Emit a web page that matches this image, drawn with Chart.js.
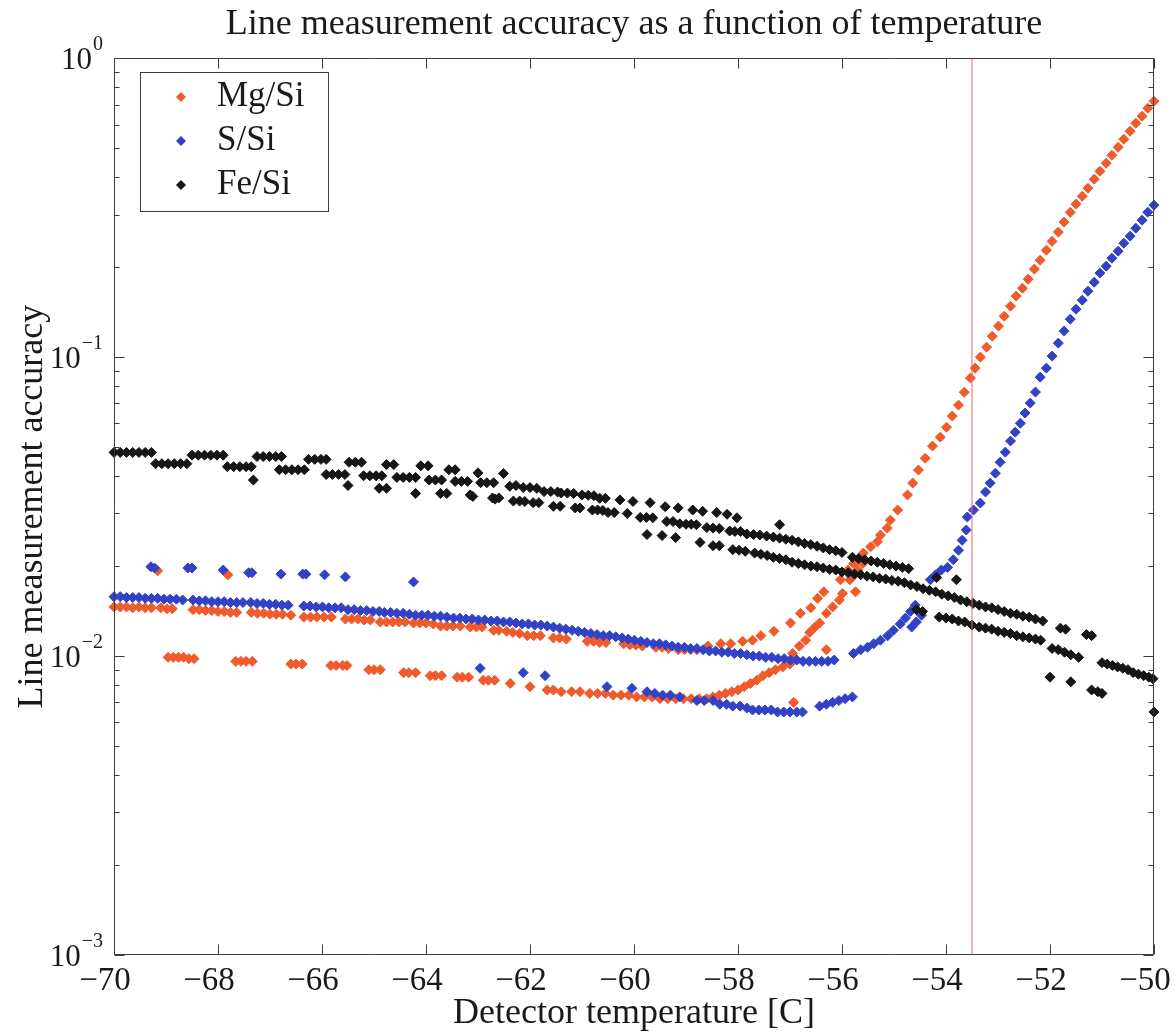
<!DOCTYPE html>
<html>
<head>
<meta charset="utf-8">
<title>Line measurement accuracy as a function of temperature</title>
<script src="https://cdn.jsdelivr.net/npm/chart.js@4.4.1/dist/chart.umd.min.js"></script>
<style>
    html, body { margin: 0; padding: 0; background: #fff; }
    #wrap { width: 1176px; height: 1036px; }
</style>
</head>
<body>
<div id="wrap"><canvas id="accuracyChart" width="1176" height="1036"></canvas></div>
<script>
// --- Fe/Si (black) ---
const feStepTemp = [-70.0, -69.88, -69.76, -69.64, -69.52, -69.4, -69.28, -69.2, -69.08, -68.96, -68.84, -68.72, -68.6,
    -68.5, -68.38, -68.26, -68.14, -68.02, -67.9, -67.82, -67.7, -67.58, -67.46, -67.36, -67.32,
    -67.25, -67.13, -67.01, -66.89, -66.78, -66.82, -66.7, -66.58, -66.46, -66.34, -66.26, -66.14, -66.02, -65.92,
    -65.92, -65.8, -65.68, -65.56, -65.5, -65.48, -65.36, -65.24, -65.2, -65.08, -64.96, -64.85, -64.9, -64.76,
    -64.76, -64.62, -64.56, -64.44, -64.32, -64.2, -64.2, -64.1, -63.96, -63.94, -63.82, -63.7, -63.72, -63.6,
    -63.56, -63.44, -63.44, -63.32, -63.2, -63.15, -63.0, -62.95, -62.83, -62.7, -62.67, -62.51];
const feStepAcc = [0.048, 0.048, 0.048, 0.048, 0.048, 0.048, 0.048, 0.044, 0.044, 0.044, 0.044, 0.044, 0.044,
    0.047, 0.047, 0.047, 0.047, 0.047, 0.047, 0.043, 0.043, 0.043, 0.043, 0.043, 0.0388,
    0.0465, 0.0465, 0.0465, 0.0465, 0.0465, 0.042, 0.042, 0.042, 0.042, 0.042, 0.0455, 0.0455, 0.0455, 0.0455,
    0.0405, 0.0405, 0.0405, 0.0405, 0.0372, 0.0445, 0.0445, 0.0445, 0.0401, 0.0401, 0.0401, 0.0401, 0.0364, 0.0364,
    0.0437, 0.0437, 0.0396, 0.0396, 0.0396, 0.0396, 0.035, 0.0433, 0.0433, 0.0388, 0.0388, 0.0388, 0.035, 0.035,
    0.042, 0.042, 0.0384, 0.0384, 0.0384, 0.0346, 0.041, 0.038, 0.038, 0.038, 0.0335, 0.0408];

const feTopTemp = [-62.39, -62.27, -62.13, -62.0, -61.87, -61.73, -61.6, -61.47, -61.4, -61.28, -61.16, -61.0, -60.88,
    -60.77, -60.66, -60.55, -60.27, -60.02, -59.69, -59.4, -59.15, -58.87, -58.68, -58.41, -58.21, -58.02];
const feTopAcc = [0.0370, 0.0372, 0.0366, 0.0366, 0.0364, 0.0355, 0.0355, 0.0354, 0.0351, 0.0351, 0.0350, 0.0346, 0.0345,
    0.0344, 0.0337, 0.0337, 0.0333, 0.0329, 0.0326, 0.0316, 0.0313, 0.0308, 0.0305, 0.0302, 0.0298, 0.0290];

const feMidTemp = [-63.1, -62.72, -62.6, -62.32, -62.2, -62.1, -61.94, -61.83, -61.55, -61.42, -61.13, -61.04, -60.8,
    -60.7, -60.6, -60.5, -60.38, -60.13, -59.88, -59.76, -59.64, -59.37, -59.25, -59.12, -59.0, -58.9, -58.8, -58.6,
    -58.48, -58.36, -58.16, -58.06, -57.95, -57.83, -57.7, -57.58, -57.45, -57.32, -57.2, -57.08, -56.96, -56.84,
    -56.72, -56.6, -56.48, -56.36, -56.24, -56.12, -56.0, -55.8, -55.68, -55.56, -55.44, -55.32, -55.2, -55.08,
    -54.96, -54.84, -54.72];
const feMidAcc = [0.0342, 0.0338, 0.0338, 0.0330, 0.0330, 0.0329, 0.0326, 0.0326, 0.0317, 0.0317, 0.0313, 0.0313, 0.0308,
    0.0308, 0.0307, 0.0302, 0.0302, 0.0300, 0.0291, 0.0291, 0.0290, 0.0282, 0.0282, 0.0277, 0.0276, 0.0276, 0.0275, 0.0269,
    0.0268, 0.0267, 0.0262, 0.0261, 0.0261, 0.0256, 0.0255, 0.0254, 0.0252, 0.0250, 0.0248, 0.0246, 0.0244, 0.0241,
    0.0238, 0.0236, 0.0233, 0.0230, 0.0227, 0.0225, 0.0222, 0.0214, 0.0212, 0.0210, 0.0208, 0.0206, 0.0204, 0.0202,
    0.0200, 0.0198, 0.0196];

const feLowTemp = [-59.75, -59.46, -59.2, -58.73, -58.48, -58.36, -58.1, -57.98, -57.86, -57.68, -57.56, -57.44, -57.32,
    -57.2, -57.08, -56.96, -56.84, -56.72, -56.6, -56.48, -56.36, -56.24, -56.12, -56.0, -55.88, -55.76, -55.64, -55.52,
    -55.4, -55.28, -55.16, -55.04, -54.92, -54.8, -54.68, -54.56, -54.44, -54.32, -54.2, -54.08, -53.96, -53.84, -53.72,
    -53.6, -53.48, -53.36, -53.24, -53.12, -53.0, -52.88, -52.76, -52.64, -52.52, -52.4, -52.28, -52.14, -51.8, -51.7,
    -51.3, -51.2, -51.0, -50.9, -50.8, -50.7, -50.6, -50.5, -50.4, -50.3, -50.2, -50.1, -50.02];
const feLowAcc = [0.0255, 0.0253, 0.0249, 0.0240, 0.0234, 0.0234, 0.0227, 0.0226, 0.0224, 0.0221, 0.0219, 0.0217, 0.0214,
    0.0212, 0.0210, 0.0206, 0.0204, 0.0202, 0.0200, 0.0199, 0.0197, 0.0195, 0.0194, 0.0191, 0.0190, 0.0188, 0.0187, 0.0185,
    0.0184, 0.0182, 0.0181, 0.0179, 0.0178, 0.0176, 0.0173, 0.0171, 0.0168, 0.0166, 0.0164, 0.0161, 0.0159, 0.0157, 0.0154,
    0.0152, 0.0150, 0.0148, 0.0146, 0.0145, 0.0143, 0.0141, 0.0139, 0.0138, 0.0136, 0.0135, 0.0133, 0.0131, 0.0124, 0.0123,
    0.0118, 0.0117, 0.0095, 0.0094, 0.0093, 0.0092, 0.0091, 0.0090, 0.0088, 0.0087, 0.0086, 0.0085, 0.0084];

const feBottomTemp = [-54.57, -54.45, -54.13, -54.0, -53.88, -53.76, -53.64, -53.5, -53.36, -53.24, -53.12, -53.0, -52.88,
    -52.76, -52.64, -52.52, -52.4, -52.28, -52.18, -51.96, -51.84, -51.72, -51.6, -51.45, -51.2, -51.08, -51.0];
const feBottomAcc = [0.0143, 0.0141, 0.0135, 0.0134, 0.0133, 0.0131, 0.0130, 0.0127, 0.0125, 0.0124, 0.0123, 0.0121, 0.0120,
    0.0119, 0.0117, 0.0116, 0.0115, 0.0114, 0.0113, 0.0106, 0.0105, 0.0103, 0.0101, 0.0099, 0.0077, 0.0076, 0.0075];

const feStrayTemp = [-57.2, -54.18, -53.8, -52.0, -51.6, -50.0];
const feStrayAcc = [0.0275, 0.0183, 0.0180, 0.0085, 0.0082, 0.0065];

// --- Mg/Si (orange) ---
const mgUpperTemp = [-70.0, -69.88, -69.76, -69.64, -69.52, -69.4, -69.28, -69.1, -68.98, -68.88, -68.48, -68.36, -68.24,
    -68.12, -68.0, -67.88, -67.76, -67.64, -67.36, -67.24, -67.12, -67.0, -66.88, -66.76, -66.6, -66.35, -66.22, -66.1,
    -65.96, -65.82, -65.55, -65.43, -65.31, -65.19, -65.07, -64.88, -64.76, -64.64, -64.52, -64.4, -64.24, -64.12, -64.0,
    -63.86, -63.72, -63.6, -63.48, -63.34, -63.15, -63.03, -62.92, -62.7, -62.6, -62.45, -62.33, -62.2, -62.05, -61.93,
    -61.8, -61.55, -61.43, -61.3, -60.9, -60.78, -60.66, -60.54, -60.2, -60.08, -59.96, -59.84, -59.58, -59.46, -59.34,
    -59.15, -59.03, -58.91, -58.79];
const mgUpperAcc = [0.0146, 0.0146, 0.0146, 0.0145, 0.0146, 0.0145, 0.0145, 0.0145, 0.0144, 0.0144, 0.0143, 0.0143, 0.0142,
    0.0142, 0.0141, 0.0141, 0.0140, 0.0140, 0.0140, 0.0139, 0.0139, 0.0138, 0.0138, 0.0138, 0.0137, 0.0135, 0.0135, 0.0135,
    0.0135, 0.0135, 0.0133, 0.0133, 0.0133, 0.0132, 0.0132, 0.0130, 0.0130, 0.0130, 0.0130, 0.0130, 0.0129, 0.0129, 0.0129,
    0.0128, 0.0126, 0.0126, 0.0126, 0.0126, 0.0125, 0.0125, 0.0125, 0.0122, 0.0122, 0.0121, 0.0120, 0.0119, 0.0117, 0.0117,
    0.0117, 0.0115, 0.0115, 0.0114, 0.0112, 0.0112, 0.0111, 0.0111, 0.0110, 0.0109, 0.0109, 0.0108, 0.0107, 0.0107, 0.0106,
    0.0105, 0.0105, 0.0105, 0.0105];

const mgRiseTemp = [-58.58, -58.33, -58.14, -57.91, -57.72, -57.56, -57.31, -56.99, -56.8, -56.6, -56.47, -56.35, -56.03,
    -55.89, -55.78, -55.59, -55.45, -55.32, -55.26, -55.13, -55.07, -54.93, -54.74, -54.64, -54.53, -54.4, -54.26, -54.11,
    -53.99, -53.88, -53.76, -53.65, -53.53, -53.44, -53.34, -53.22, -53.11, -52.99, -52.88, -52.76, -52.65, -52.53, -52.42,
    -52.3, -52.19, -52.07, -51.96, -51.84, -51.73, -51.61, -51.5, -51.38, -51.27, -51.15, -51.04, -50.92, -50.81, -50.69,
    -50.58, -50.46, -50.35, -50.23, -50.12, -50.0];
const mgRiseAcc = [0.0108, 0.0110, 0.0110, 0.0112, 0.0113, 0.0117, 0.0121, 0.0129, 0.0139, 0.0145, 0.0156, 0.0164, 0.0180,
    0.0194, 0.0204, 0.0221, 0.0232, 0.0241, 0.0254, 0.0268, 0.0285, 0.0308, 0.0346, 0.0379, 0.0419, 0.0459, 0.0504, 0.0540,
    0.0583, 0.0635, 0.0691, 0.0763, 0.0851, 0.0919, 0.1000, 0.108, 0.1175, 0.127, 0.1371, 0.1481, 0.160, 0.170, 0.1823,
    0.197, 0.211, 0.228, 0.244, 0.262, 0.283, 0.305, 0.325, 0.3455, 0.3674, 0.3938, 0.4188, 0.4454, 0.4737, 0.5038,
    0.5358, 0.5699, 0.6061, 0.6398, 0.6805, 0.718];

const mgLowerTemp = [-68.96, -68.86, -68.76, -68.66, -68.56, -68.46, -67.66, -67.56, -67.46, -67.34, -66.6, -66.5, -66.38,
    -65.83, -65.73, -65.6, -65.52, -65.1, -65.0, -64.88, -64.43, -64.33, -64.2, -63.92, -63.82, -63.7, -63.4, -63.3, -63.18,
    -62.9, -62.8, -62.68, -62.38, -62.0, -61.67, -61.55, -61.4, -61.2, -61.04, -60.85, -60.7, -60.55, -60.4, -60.25, -60.1,
    -59.95, -59.8, -59.65, -59.5, -59.35, -59.2, -59.05, -58.9, -58.75, -58.6, -58.48, -58.36, -58.24, -58.12, -58.0,
    -57.88, -57.76, -57.64, -57.52, -57.4, -57.28, -57.14, -57.0, -56.95, -56.82, -56.7, -56.62, -56.52, -56.43, -56.3,
    -56.18, -56.05, -55.99, -55.85, -55.8, -55.7, -55.6];
const mgLowerAcc = [0.0099, 0.0099, 0.0099, 0.0099, 0.0098, 0.0098, 0.0096, 0.0096, 0.0096, 0.0096, 0.0094, 0.0094, 0.0094,
    0.0093, 0.0093, 0.0093, 0.0093, 0.0090, 0.0090, 0.0090, 0.0088, 0.0088, 0.0088, 0.0086, 0.0086, 0.0086, 0.0085, 0.0085, 0.0085,
    0.0083, 0.0083, 0.0083, 0.0081, 0.0079, 0.0077, 0.0077, 0.0076, 0.0076, 0.0076, 0.0075, 0.0075, 0.0075, 0.0074, 0.0074, 0.0074,
    0.0073, 0.0073, 0.0073, 0.0072, 0.0072, 0.0072, 0.0072, 0.0072, 0.0072, 0.0072, 0.0073, 0.0074, 0.0075, 0.0076, 0.0077,
    0.0079, 0.0081, 0.0083, 0.0086, 0.0088, 0.0090, 0.0092, 0.0094, 0.0102, 0.0108, 0.0113, 0.0120, 0.0125, 0.0129, 0.0139,
    0.0146, 0.0154, 0.0162, 0.0180, 0.0184, 0.0194, 0.0204];

const mgStrayTemp = [-69.16, -67.81, -56.93, -56.3, -55.74];
const mgStrayAcc = [0.0193, 0.0187, 0.0070, 0.0105, 0.0164];

// --- S/Si (blue) ---
const sUpperTemp = [-70.0, -69.88, -69.76, -69.64, -69.52, -69.4, -69.28, -69.16, -69.04, -68.92, -68.8, -68.68,
    -68.48, -68.36, -68.24, -68.12, -68.0, -67.88, -67.76, -67.64, -67.52, -67.37, -67.25, -67.13, -67.01, -66.89,
    -66.77, -66.65, -66.35, -66.23, -66.11, -65.99, -65.87, -65.75, -65.63, -65.5, -65.38, -65.26, -65.14, -65.02,
    -64.9, -64.8, -64.68, -64.56, -64.44, -64.32, -64.2, -64.08, -63.96, -63.84, -63.72, -63.6, -63.47, -63.35, -63.23,
    -63.11, -62.99, -62.87, -62.75, -62.63, -62.51, -62.39, -62.27, -62.15, -62.03, -61.91, -61.79, -61.67, -61.55,
    -61.43, -61.31, -61.19, -61.07, -60.95, -60.83, -60.71, -60.59, -60.47, -60.35, -60.23, -60.11, -59.99, -59.87,
    -59.75, -59.63, -59.51, -59.39, -59.27, -59.15, -59.03, -58.91, -58.79, -58.67, -58.55, -58.43, -58.31, -58.19,
    -58.07, -57.95, -57.83, -57.71, -57.59, -57.47, -57.35, -57.23, -57.11, -56.99, -56.87, -56.75, -56.63, -56.51,
    -56.39, -56.27, -56.15];
const sUpperAcc = [0.0158, 0.0158, 0.0157, 0.0157, 0.0157, 0.0156, 0.0156, 0.0156, 0.0155, 0.0155, 0.0155, 0.0154,
    0.0154, 0.0153, 0.0153, 0.0152, 0.0152, 0.0152, 0.0151, 0.0151, 0.0151, 0.0151, 0.0150, 0.0150, 0.0149, 0.0149,
    0.0148, 0.0148, 0.0147, 0.0147, 0.0146, 0.0146, 0.0145, 0.0145, 0.0145, 0.0143, 0.0143, 0.0142, 0.0142, 0.0141,
    0.0141, 0.0140, 0.0140, 0.0139, 0.0139, 0.0138, 0.0137, 0.0137, 0.0137, 0.0136, 0.0136, 0.0135, 0.0134, 0.0134, 0.0133,
    0.0133, 0.0132, 0.0132, 0.0131, 0.0131, 0.0130, 0.0130, 0.0129, 0.0128, 0.0128, 0.0127, 0.0127, 0.0126, 0.0125,
    0.0124, 0.0123, 0.0122, 0.0121, 0.0120, 0.0119, 0.0118, 0.0117, 0.0117, 0.0116, 0.0115, 0.0114, 0.0113, 0.0112,
    0.0111, 0.0110, 0.0110, 0.0109, 0.0108, 0.0107, 0.0107, 0.0106, 0.0106, 0.0105, 0.0104, 0.0104, 0.0103, 0.0103,
    0.0102, 0.0102, 0.0101, 0.0100, 0.0100, 0.0099, 0.0099, 0.0098, 0.0098, 0.0097, 0.0097, 0.0096, 0.0096, 0.0096,
    0.0096, 0.0096, 0.0097];

const sRiseTemp = [-55.78, -55.64, -55.51, -55.39, -55.26, -55.12, -55.01, -54.88, -54.78, -54.68, -54.59, -54.66, -54.57,
    -54.47, -54.3, -54.2, -54.09, -53.97, -53.86, -53.76, -53.69, -53.61, -53.59, -53.47, -53.34, -53.24, -53.15, -53.05,
    -52.96, -52.86, -52.76, -52.67, -52.57, -52.48, -52.38, -52.28, -52.19, -52.07, -51.96, -51.84, -51.73, -51.61, -51.5,
    -51.38, -51.27, -51.15, -51.04, -50.92, -50.81, -50.69, -50.58, -50.46, -50.35, -50.23, -50.12, -50.0];
const sRiseAcc = [0.0102, 0.0105, 0.0107, 0.0110, 0.0113, 0.0117, 0.0122, 0.0128, 0.0134, 0.0141, 0.0148, 0.0125, 0.0130,
    0.0137, 0.0180, 0.0187, 0.0194, 0.0198, 0.0210, 0.0226, 0.0244, 0.0264, 0.0292, 0.0308, 0.0325, 0.0354, 0.0379, 0.0409,
    0.0445, 0.0481, 0.0524, 0.0561, 0.0601, 0.0650, 0.0702, 0.0764, 0.0857, 0.0919, 0.1008, 0.1114, 0.1222, 0.1340, 0.1447,
    0.1551, 0.1662, 0.1781, 0.1910, 0.2015, 0.2143, 0.2262, 0.2405, 0.2539, 0.2700, 0.2871, 0.3055, 0.3224];

const sLowerTemp = [-62.96, -62.13, -61.71, -60.52, -60.04, -59.75, -59.6, -59.45, -59.3, -59.12, -58.79, -58.65, -58.48,
    -58.35, -58.22, -58.1, -57.96, -57.83, -57.72, -57.6, -57.48, -57.36, -57.24, -57.12, -57.0, -56.87, -56.76, -56.43,
    -56.3, -56.18, -56.06, -55.94, -55.8];
const sLowerAcc = [0.0091, 0.0088, 0.0086, 0.0079, 0.0078, 0.0076, 0.0075, 0.0074, 0.0074, 0.0073, 0.0071, 0.0071, 0.0071,
    0.0069, 0.0069, 0.0068, 0.0068, 0.0067, 0.0066, 0.0066, 0.0066, 0.0066, 0.0065, 0.0065, 0.0065, 0.0065, 0.0065, 0.0068,
    0.0069, 0.0070, 0.0071, 0.0072, 0.0073];

const sStrayTemp = [-69.29, -69.22, -68.58, -68.5, -67.9, -67.41, -67.35, -66.79, -66.37, -66.31, -65.95, -65.55, -64.24];
const sStrayAcc = [0.0199, 0.0197, 0.0197, 0.0197, 0.0194, 0.0190, 0.0190, 0.0188, 0.0188, 0.0188, 0.0187, 0.0184, 0.0177];

// operating temperature marker (red vertical line) and axis ranges
const limitTemp = -53.5;
const xRange = [-70, -50];
const yRange = [0.001, 1];
const yDecades = [-3, -2, -1, 0];
const yMinorSteps = [2, 3, 4, 5, 6, 7, 8, 9];

const SERIF = '"Liberation Serif", "Times New Roman", serif';
const TEXT_COLOR = '#1a1a1a';
const AXIS_COLOR = '#3c3c3c';
const MG_COLOR = '#ef5b2b';
const S_COLOR = '#3142c6';
const FE_COLOR = '#161616';
const LIMIT_COLOR = '#ef5f70';

function toPoints(pairs) {
    const pts = [];
    pairs.forEach(([xs, ys]) => {
        const n = Math.min(xs.length, ys.length);
        for (let i = 0; i < n; i++) pts.push({ x: xs[i], y: ys[i] });
    });
    return pts;
}

function markerSet(label, color, order, pairs) {
    return {
        label: label,
        data: toPoints(pairs),
        backgroundColor: color,
        borderColor: color,
        pointStyle: 'rectRot',
        pointRadius: 5,
        pointBorderWidth: 1,
        pointHoverRadius: 5,
        order: order,
        clip: false,
        inLegend: true
    };
}

// frame, inward tick marks and the 10^n labels of the log axis
const frameAndTicks = {
    id: 'frameAndTicks',
    afterDatasetsDraw(chart) {
        const { ctx, chartArea: a, scales: { x, y } } = chart;
        const L = Math.round(a.left) + 0.5, R = Math.round(a.right) - 0.5;
        const T = Math.round(a.top) + 0.5, B = Math.round(a.bottom) - 0.5;
        ctx.save();
        ctx.strokeStyle = AXIS_COLOR;
        ctx.lineWidth = 1;
        ctx.beginPath();
        ctx.rect(L, T, R - L, B - T);
        x.ticks.forEach(t => {
            const px = Math.round(x.getPixelForValue(t.value)) + 0.5;
            ctx.moveTo(px, B); ctx.lineTo(px, B - 10);
            ctx.moveTo(px, T); ctx.lineTo(px, T + 10);
        });
        yDecades.forEach(e => {
            const py = Math.round(y.getPixelForValue(Math.pow(10, e))) + 0.5;
            ctx.moveTo(L, py); ctx.lineTo(L + 10, py);
            ctx.moveTo(R, py); ctx.lineTo(R - 10, py);
            if (e < 0) {
                yMinorSteps.forEach(m => {
                    const pm = Math.round(y.getPixelForValue(m * Math.pow(10, e))) + 0.5;
                    ctx.moveTo(L, pm); ctx.lineTo(L + 5, pm);
                    ctx.moveTo(R, pm); ctx.lineTo(R - 5, pm);
                });
            }
        });
        ctx.stroke();

        ctx.fillStyle = TEXT_COLOR;
        ctx.textAlign = 'right';
        ctx.textBaseline = 'middle';
        yDecades.forEach(e => {
            const py = y.getPixelForValue(Math.pow(10, e));
            const sup = e === 0 ? '0' : '\u2212' + Math.abs(e);
            ctx.font = `20px ${SERIF}`;
            const w = ctx.measureText(sup).width;
            ctx.fillText(sup, 103, py - 13);
            ctx.font = `31px ${SERIF}`;
            ctx.fillText('10', 103 - w - 1, py + 3);
        });
        ctx.restore();
    }
};

// boxed legend in the upper left corner of the axes
const legendBox = {
    id: 'legendBox',
    afterDraw(chart) {
        const { ctx } = chart;
        const items = chart.data.datasets.filter(d => d.inLegend);
        ctx.save();
        ctx.fillStyle = '#fff';
        ctx.fillRect(140, 72, 188, 139);
        ctx.strokeStyle = AXIS_COLOR;
        ctx.lineWidth = 1;
        ctx.strokeRect(140.5, 72.5, 188, 139);
        ctx.font = `35px ${SERIF}`;
        ctx.textAlign = 'left';
        ctx.textBaseline = 'middle';
        items.forEach((d, i) => {
            const cy = 97 + i * 44;
            ctx.fillStyle = d.backgroundColor;
            ctx.beginPath();
            ctx.moveTo(181 - 5, cy); ctx.lineTo(181, cy - 5);
            ctx.lineTo(181 + 5, cy); ctx.lineTo(181, cy + 5);
            ctx.closePath();
            ctx.fill();
            ctx.fillStyle = TEXT_COLOR;
            ctx.fillText(d.label, 217, cy);
        });
        ctx.restore();
    }
};

const ctx = document.getElementById('accuracyChart').getContext('2d');
new Chart(ctx, {
    type: 'scatter',
    data: {
        datasets: [
            markerSet('Mg/Si', MG_COLOR, 3, [[mgUpperTemp, mgUpperAcc], [mgRiseTemp, mgRiseAcc], [mgLowerTemp, mgLowerAcc], [mgStrayTemp, mgStrayAcc]]),
            markerSet('S/Si', S_COLOR, 2, [[sUpperTemp, sUpperAcc], [sRiseTemp, sRiseAcc], [sLowerTemp, sLowerAcc], [sStrayTemp, sStrayAcc]]),
            markerSet('Fe/Si', FE_COLOR, 1, [[feStepTemp, feStepAcc], [feTopTemp, feTopAcc], [feMidTemp, feMidAcc], [feLowTemp, feLowAcc], [feBottomTemp, feBottomAcc], [feStrayTemp, feStrayAcc]]),
            {
                label: 'limit',
                data: [{ x: limitTemp, y: yRange[0] }, { x: limitTemp, y: yRange[1] }],
                showLine: true,
                borderColor: LIMIT_COLOR,
                borderWidth: 1,
                pointRadius: 0,
                order: 0
            }
        ]
    },
    options: {
        responsive: false,
        animation: false,
        devicePixelRatio: 1,
        layout: { padding: { left: 0, right: 22, top: 0, bottom: 0 } },
        plugins: {
            legend: { display: false },
            tooltip: { enabled: false },
            title: {
                display: true,
                fullSize: false,
                text: 'Line measurement accuracy as a function of temperature',
                color: TEXT_COLOR,
                font: { family: SERIF, size: 36, weight: 'normal' },
                padding: { top: 3, bottom: 12 }
            }
        },
        scales: {
            x: {
                type: 'linear',
                min: xRange[0],
                max: xRange[1],
                grid: { display: false, drawTicks: false },
                border: { display: false },
                ticks: {
                    stepSize: 2,
                    autoSkip: false,
                    maxRotation: 0,
                    padding: 7,
                    labelOffset: -9,
                    color: TEXT_COLOR,
                    font: { family: SERIF, size: 33 },
                    callback: v => (v < 0 ? '\u2212' + Math.abs(v) : String(v))
                },
                title: {
                    display: true,
                    text: 'Detector temperature [C]',
                    color: TEXT_COLOR,
                    font: { family: SERIF, size: 36 },
                    padding: { top: 0, bottom: 1 }
                },
                afterFit: s => { s.height = 81; s.paddingLeft = 0; s.paddingRight = 0; }
            },
            y: {
                type: 'logarithmic',
                min: yRange[0],
                max: yRange[1],
                grid: { display: false, drawTicks: false },
                border: { display: false },
                ticks: { display: false },
                title: {
                    display: true,
                    text: 'Line measurement accuracy',
                    color: TEXT_COLOR,
                    font: { family: SERIF, size: 36 },
                    padding: { top: 11, bottom: 0 }
                },
                afterFit: s => { s.width = 114; s.paddingTop = 0; s.paddingBottom = 0; }
            }
        }
    },
    plugins: [frameAndTicks, legendBox]
});
</script>
</body>
</html>
